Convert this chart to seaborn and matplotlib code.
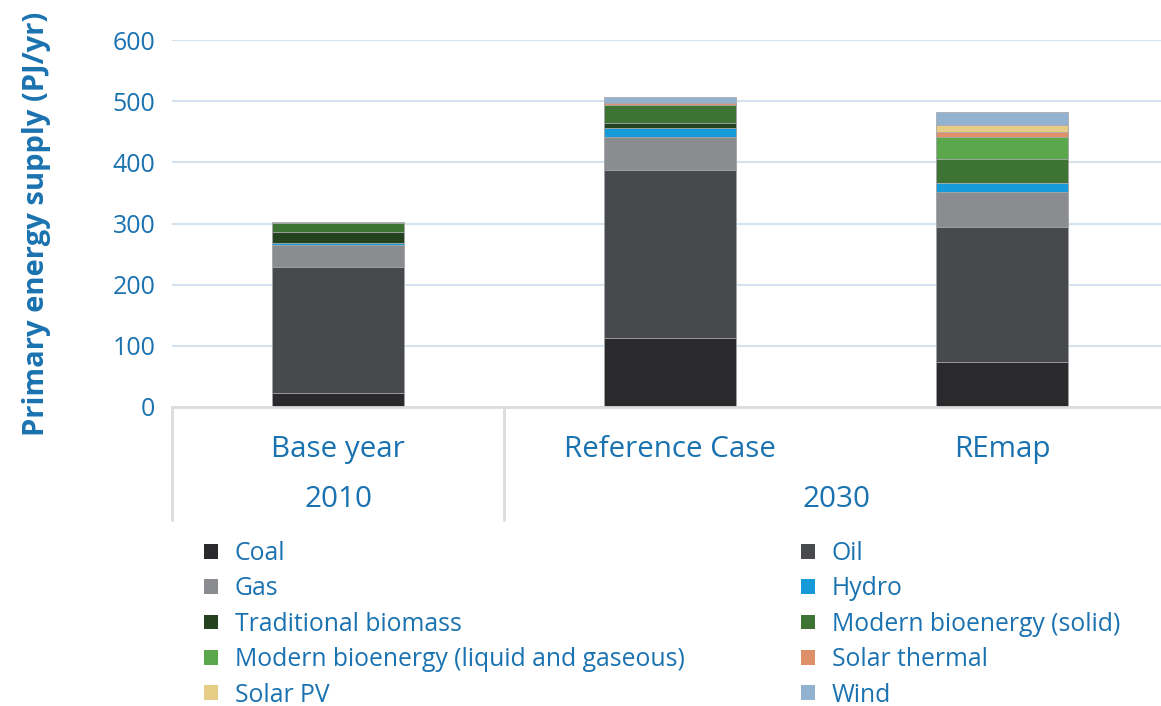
#!/usr/bin/env python3

import numpy as np
import matplotlib.pyplot as plt
import matplotlib.transforms as mtransforms
from matplotlib.patches import Patch
import pandas as pd
import seaborn as sns

SET_DPI = 100
FIGSIZE = (11.61, 7.06)
TXT = '#1a72b0'

scenarios = ['Base year', 'Reference Case', 'REmap']
years = ['2010', '2030']

sources = ['Coal', 'Oil', 'Gas', 'Hydro', 'Traditional biomass',
           'Modern bioenergy (solid)', 'Modern bioenergy (liquid and gaseous)',
           'Solar thermal', 'Solar PV', 'Wind']

# PJ/yr, one value per scenario
coal = [23, 113, 74]
oil = [206, 274, 221]
gas = [36, 55, 57]
hydro = [3, 14, 14]
trad_biomass = [18, 9, 0]
mod_solid = [15, 28, 40]
mod_liquid = [0, 0, 35]
solar_thermal = [0, 4, 9]
solar_pv = [0, 0, 11]
wind = [2, 10, 22]

colours = ['#2a2a2c', '#48494c', '#8b8c90', '#169ad8', '#25421f',
           '#3e7433', '#5aa74c', '#e09068', '#e6cd86', '#92b2cf']

values = [coal, oil, gas, hydro, trad_biomass, mod_solid, mod_liquid,
          solar_thermal, solar_pv, wind]

df = pd.DataFrame(np.array(values).T, columns=sources)
df['scenario'] = scenarios
cum = df[sources].cumsum(axis=1)

sns.set_style('white')
plt.rcParams['font.family'] = ['Open Sans', 'DejaVu Sans']

fig = plt.figure(figsize=FIGSIZE, dpi=SET_DPI)
ax = fig.add_axes([172 / 1161, 299 / 706, 996 / 1161, 367 / 706])

# stacked bars: draw cumulative totals from the top layer down
for i in range(len(sources) - 1, -1, -1):
    sns.barplot(x=df['scenario'], y=cum[sources[i]], color=colours[i],
                width=0.4, saturation=1, edgecolor='#a9abae', linewidth=0.6,
                ax=ax, zorder=3)

ax.set_ylim(0, 600)
ax.set_xlim(-0.5, 2.5)
ax.set_yticks(range(0, 601, 100))
ax.yaxis.grid(True, color='#d5e3f1', linewidth=1.5, zorder=0)
for s in ['top', 'right', 'left']:
    ax.spines[s].set_visible(False)
ax.spines['bottom'].set_color('#dcdcdc')
ax.spines['bottom'].set_linewidth(2)
ax.spines['bottom'].set_zorder(4)
ax.tick_params(axis='y', length=0, pad=12, labelsize=18, labelcolor=TXT)
ax.tick_params(axis='x', length=0, pad=20, labelsize=21.3, labelcolor=TXT)
ax.set_xlabel('')
ax.set_ylabel('Primary energy supply (PJ/yr)', fontsize=21, fontweight='bold',
              color=TXT, labelpad=44)

# year grouping under the scenario labels
trans = mtransforms.blended_transform_factory(ax.transData, ax.transAxes)
for xv in [-0.5, 0.5]:
    ax.plot([xv, xv], [0, -0.308], transform=trans, color='#dcdcdc',
            linewidth=2, clip_on=False)
ax.text(0, -0.253, years[0], transform=trans, ha='center', va='center',
        fontsize=21.3, color=TXT)
ax.text(1.5, -0.253, years[1], transform=trans, ha='center', va='center',
        fontsize=21.3, color=TXT)

# legend, row-wise order in two columns
order = [0, 2, 4, 6, 8, 1, 3, 5, 7, 9]
handles = [Patch(facecolor=colours[i], edgecolor='none') for i in order]
labels = [sources[i] for i in order]
leg = fig.legend(handles, labels, ncol=2, loc='upper left',
                 bbox_to_anchor=(204 / 1161, 1 - 541 / 706), frameon=False,
                 fontsize=17.8, handlelength=0.55, handleheight=0.55,
                 handletextpad=0.7, columnspacing=4.7, labelspacing=0.42,
                 borderpad=0, borderaxespad=0)
for t in leg.get_texts():
    t.set_color(TXT)

fig.savefig('out.png', dpi=SET_DPI)
